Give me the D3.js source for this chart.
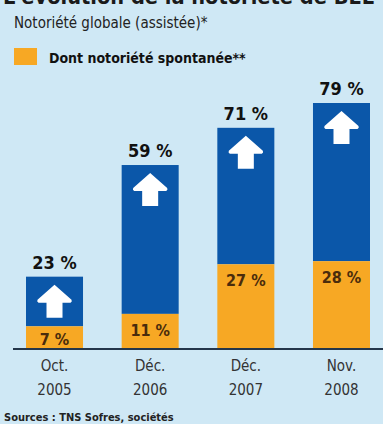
<!DOCTYPE html>
<html>
<head>
<meta charset="utf-8">
<script src="https://cdn.jsdelivr.net/npm/d3@7"></script>
<style>
	body { margin: 0; background: #cfe8f5; }
	svg { display: block; }
	text { font-family: "DejaVu Sans Condensed", "Liberation Sans Narrow", "Roboto", sans-serif; font-stretch: condensed; }
</style>
</head>
<body>
<div id="chart"></div>
<script>
const periods = ["Oct.|2005", "Déc.|2006", "Déc.|2007", "Nov.|2008"]
const totalValues = [23, 59, 71, 79]
const spontValues = [7, 11, 27, 28]

const width = 383
const height = 424
const margin = ({ top: 103, right: 13, bottom: 76, left: 26 })
const BLUE = "#0b57a9"
const ORANGE = "#f7a824"

const svg = d3.select("#chart").append("svg")
	.attr("width", width)
	.attr("height", height)

svg.append("rect").attr("width", width).attr("height", height).attr("fill", "#cfe8f5")

// title (cut off at the top in the original)
svg.append("text")
	.attr("x", 3).attr("y", 4)
	.attr("font-size", 22).attr("font-weight", "bold").attr("fill", "#1a1a1a")
	.attr("textLength", 372).attr("lengthAdjust", "spacingAndGlyphs")
	.text("L'évolution de la notoriété de BEE")

svg.append("text")
	.attr("x", 14).attr("y", 28)
	.attr("font-size", 15).attr("fill", "#222")
	.text("Notoriété globale (assistée)*")

// legend
svg.append("rect")
	.attr("x", 14).attr("y", 48).attr("width", 23).attr("height", 17)
	.attr("fill", ORANGE)
svg.append("text")
	.attr("x", 49).attr("y", 63)
	.attr("font-size", 14).attr("font-weight", "bold").attr("fill", "#111")
	.text("Dont notoriété spontanée**")

const x = d3.scaleBand()
	.domain(periods)
	.range([margin.left, width - margin.right])
	.paddingInner(0.404)
	.paddingOuter(0)
const y = d3.scaleLinear().domain([0, 79]).range([height - margin.bottom, margin.top])
const bw = x.bandwidth()

const bars = svg.append("g").selectAll(".bar")
	.data(periods.map((p, i) => ({ p, total: totalValues[i], spont: spontValues[i] })))
	.join("g")
	.attr("class", "bar")
	.attr("transform", d => `translate(${x(d.p)},0)`)

bars.append("rect")
	.attr("y", d => y(d.total))
	.attr("height", d => y(d.spont) - y(d.total))
	.attr("width", bw)
	.attr("fill", BLUE)

bars.append("rect")
	.attr("y", d => y(d.spont))
	.attr("height", d => y(0) - y(d.spont))
	.attr("width", bw)
	.attr("fill", ORANGE)

// white arrows
const arrow = "M0,0 L17,15 Q18,17 16,18 L8,18 L8,33 L-8,33 L-8,18 L-16,18 Q-18,17 -17,15 Z"
bars.append("path")
	.attr("d", arrow)
	.attr("fill", "#fff")
	.attr("transform", d => `translate(${bw / 2},${y(d.total) + 8})`)

bars.append("text")
	.attr("x", bw / 2)
	.attr("y", d => y(d.total) - 8)
	.attr("text-anchor", "middle")
	.attr("font-size", 18).attr("font-weight", "bold").attr("fill", "#111")
	.text(d => `${d.total} %`)

bars.append("text")
	.attr("x", bw / 2)
	.attr("y", d => Math.min(y(d.spont) + 22, y(0) - 3))
	.attr("text-anchor", "middle")
	.attr("font-size", 16).attr("font-weight", "bold").attr("fill", "#4a2c0c")
	.text(d => `${d.spont} %`)

// baseline
svg.append("line")
	.attr("x1", 13).attr("x2", width)
	.attr("y1", y(0) + 1).attr("y2", y(0) + 1)
	.attr("stroke", "#24364a").attr("stroke-width", 2)

const xl = svg.append("g").selectAll("text")
	.data(periods)
	.join("text")
	.attr("text-anchor", "middle")
	.attr("font-size", 15).attr("fill", "#333")
	.attr("transform", d => `translate(${x(d) + bw / 2},0)`)
xl.append("tspan").attr("x", 0).attr("y", y(0) + 23).text(d => d.split("|")[0])
xl.append("tspan").attr("x", 0).attr("y", y(0) + 47).text(d => d.split("|")[1])

svg.append("text")
	.attr("x", 4).attr("y", 421)
	.attr("font-size", 11).attr("font-weight", "bold").attr("fill", "#222")
	.text("Sources : TNS Sofres, sociétés")
</script>
</body>
</html>
